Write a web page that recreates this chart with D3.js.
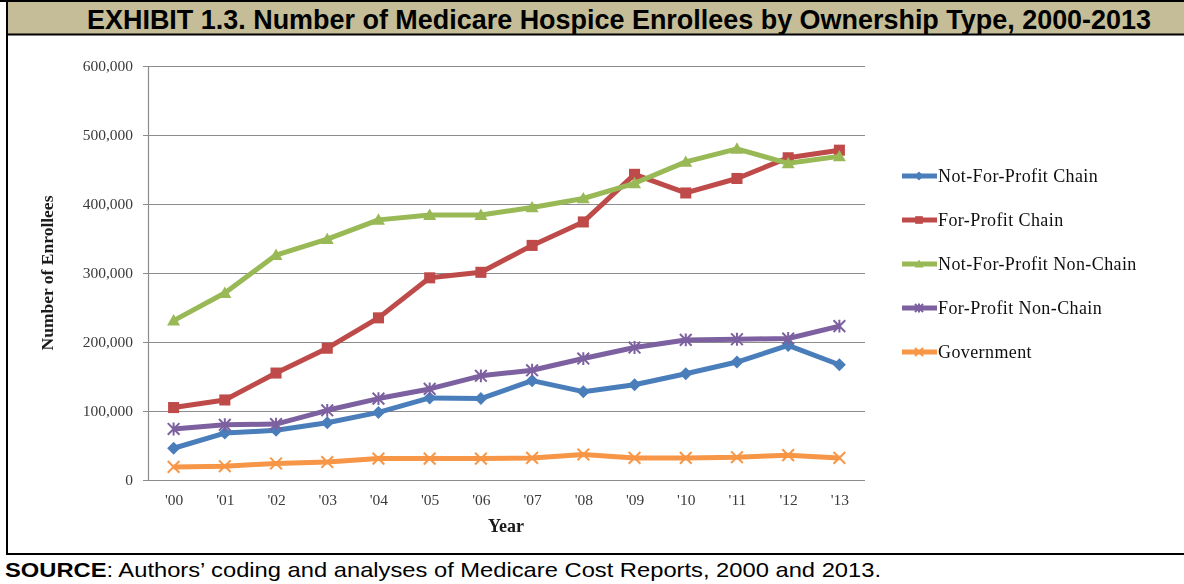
<!DOCTYPE html>
<html>
<head>
<meta charset="utf-8">
<script src="https://cdn.jsdelivr.net/npm/d3@7"></script>
<style>
  html, body { margin: 0; padding: 0; background: #fff; }
  svg { display: block; }
</style>
</head>
<body>
<svg id="chart" width="1184" height="584"></svg>
<script>
// Years on the x axis
const years = ["'00","'01","'02","'03","'04","'05","'06","'07","'08","'09","'10","'11","'12","'13"];

// Enrollees per ownership type, 2000-2013
const notForProfitChain    = [46000, 68000, 72000, 83000, 98000, 119000, 118000, 144000, 128000, 138000, 154000, 171000, 195000, 167000];
const forProfitChain       = [105000, 116000, 155000, 191000, 235000, 293000, 301000, 340000, 374000, 443000, 416000, 437000, 467000, 478000];
const notForProfitNonChain = [231000, 271000, 326000, 349000, 377000, 384000, 384000, 395000, 408000, 430000, 461000, 480000, 459000, 469000];
const forProfitNonChain    = [74000, 80000, 81000, 101000, 118000, 132000, 151000, 159000, 176000, 192000, 203000, 204000, 205000, 223000];
const government           = [19000, 20000, 24000, 26000, 31000, 31000, 31000, 32000, 37000, 32000, 32000, 33000, 36000, 32000];

const seriesNames = ["Not-For-Profit Chain", "For-Profit Chain", "Not-For-Profit Non-Chain", "For-Profit Non-Chain", "Government"];
const yTicks = [0, 100000, 200000, 300000, 400000, 500000, 600000];

const series = [
  { name: seriesNames[0], values: notForProfitChain,    color: "#4a7ebb", marker: "diamond" },
  { name: seriesNames[1], values: forProfitChain,       color: "#be4b48", marker: "square" },
  { name: seriesNames[2], values: notForProfitNonChain, color: "#98b954", marker: "triangle" },
  { name: seriesNames[3], values: forProfitNonChain,    color: "#7d60a0", marker: "star" },
  { name: seriesNames[4], values: government,           color: "#f79646", marker: "x" }
];

const svg = d3.select("#chart");
const W = 1184, H = 584;
const serif = "Liberation Serif, Times New Roman, serif";
const sans = "Liberation Sans, Arial, sans-serif";

// soft edge for the plotted lines and axis text
const defs = svg.append("defs");
defs.append("filter").attr("id", "soft").attr("x", "-5%").attr("y", "-5%").attr("width", "110%").attr("height", "110%")
  .append("feGaussianBlur").attr("stdDeviation", 0.7);
defs.append("filter").attr("id", "softText").attr("x", "-5%").attr("y", "-5%").attr("width", "110%").attr("height", "110%")
  .append("feGaussianBlur").attr("stdDeviation", 0.35);

// ---- frame: title bar, chart box, source row ----
svg.append("rect").attr("x", 7).attr("y", 1).attr("width", W - 7).attr("height", 33).attr("fill", "#c4bd97");
svg.append("line").attr("x1", 0).attr("x2", W).attr("y1", 1).attr("y2", 1).attr("stroke", "#000").attr("stroke-width", 2);
svg.append("line").attr("x1", 7).attr("x2", W).attr("y1", 34.5).attr("y2", 34.5).attr("stroke", "#000").attr("stroke-width", 2);
svg.append("line").attr("x1", 7).attr("x2", 7).attr("y1", 0).attr("y2", 555).attr("stroke", "#000").attr("stroke-width", 2);
svg.append("line").attr("x1", 7).attr("x2", W).attr("y1", 554).attr("y2", 554).attr("stroke", "#000").attr("stroke-width", 2);

svg.append("text")
  .attr("x", 87).attr("y", 28.5)
  .attr("font-family", sans)
  .attr("font-weight", "bold").attr("font-size", 27)
  .attr("textLength", 1064).attr("lengthAdjust", "spacingAndGlyphs")
  .attr("fill", "#000")
  .text("EXHIBIT 1.3. Number of Medicare Hospice Enrollees by Ownership Type, 2000-2013");

const src = svg.append("text")
  .attr("x", 5).attr("y", 577)
  .attr("font-family", sans)
  .attr("font-size", 21).attr("fill", "#000")
  .attr("textLength", 876).attr("lengthAdjust", "spacingAndGlyphs");
src.append("tspan").attr("font-weight", "bold").text("SOURCE");
src.append("tspan").text(":  Authors\u2019 coding and analyses of Medicare Cost Reports, 2000 and 2013.");

// ---- scales ----
const plot = { left: 148, right: 865, top: 66, bottom: 480 };
const x = d3.scalePoint().domain(years).range([plot.left, plot.right]).padding(0.5);
const y = d3.scaleLinear().domain([0, 600000]).range([plot.bottom, plot.top]);

// gridlines
svg.append("g").selectAll("line").data(yTicks.filter(d => d > 0)).join("line")
  .attr("x1", plot.left).attr("x2", plot.right)
  .attr("y1", d => Math.round(y(d)) + 0.5).attr("y2", d => Math.round(y(d)) + 0.5)
  .attr("stroke", "#8c8c8c").attr("stroke-width", 1.2);

// y axis
const yAxis = svg.append("g").attr("transform", `translate(${plot.left},0)`)
  .call(d3.axisLeft(y).tickValues(yTicks).tickSize(5).tickPadding(10).tickFormat(d3.format(",")));
yAxis.select(".domain").attr("stroke", "#8c8c8c").attr("stroke-width", 1.2);
yAxis.selectAll(".tick line").attr("stroke", "#8c8c8c");
yAxis.selectAll(".tick text").attr("font-family", serif)
  .attr("font-size", 15.5).attr("fill", "#3a3a3a").attr("filter", "url(#softText)");

// x axis
const xAxis = svg.append("g").attr("transform", `translate(0,${plot.bottom})`)
  .call(d3.axisBottom(x).tickSize(0).tickPadding(14));
xAxis.select(".domain").attr("d", `M${plot.left},0.5H${plot.right}`).attr("stroke", "#8c8c8c").attr("stroke-width", 1.2);
xAxis.selectAll(".tick text").attr("font-family", serif)
  .attr("font-size", 15.5).attr("fill", "#3a3a3a").attr("filter", "url(#softText)");

// axis titles
svg.append("text")
  .attr("transform", `translate(53,${(plot.top + plot.bottom) / 2}) rotate(-90)`)
  .attr("text-anchor", "middle")
  .attr("font-family", serif)
  .attr("font-weight", "bold").attr("font-size", 17.5).attr("fill", "#1a1a1a")
  .attr("filter", "url(#softText)")
  .text("Number of Enrollees");
svg.append("text")
  .attr("x", 506).attr("y", 532)
  .attr("text-anchor", "middle")
  .attr("font-family", serif)
  .attr("font-weight", "bold").attr("font-size", 18).attr("fill", "#1a1a1a")
  .attr("filter", "url(#softText)")
  .text("Year");

// ---- markers ----
function drawMarker(g, type, color, cx, cy, s) {
  if (type === "diamond") {
    g.append("path").attr("d", `M${cx},${cy - s}L${cx + s},${cy}L${cx},${cy + s}L${cx - s},${cy}Z`).attr("fill", color);
  } else if (type === "square") {
    g.append("rect").attr("x", cx - s * 0.85).attr("y", cy - s * 0.85).attr("width", s * 1.7).attr("height", s * 1.7).attr("fill", color);
  } else if (type === "triangle") {
    g.append("path").attr("d", `M${cx},${cy - s}L${cx + s},${cy + s * 0.75}L${cx - s},${cy + s * 0.75}Z`).attr("fill", color);
  } else if (type === "star") {
    const r = s * 0.9;
    g.append("path").attr("d", `M${cx - r},${cy - r}L${cx + r},${cy + r}M${cx - r},${cy + r}L${cx + r},${cy - r}M${cx},${cy - r * 1.1}L${cx},${cy + r * 1.1}`)
      .attr("stroke", color).attr("stroke-width", 2).attr("fill", "none");
  } else if (type === "x") {
    const r = s * 0.9;
    g.append("path").attr("d", `M${cx - r},${cy - r}L${cx + r},${cy + r}M${cx - r},${cy + r}L${cx + r},${cy - r}`)
      .attr("stroke", color).attr("stroke-width", 2).attr("fill", "none");
  }
}

const line = d3.line().x((d, i) => x(years[i])).y(d => y(d));
const marks = svg.append("g").attr("filter", "url(#soft)");

series.forEach(s => {
  const g = marks.append("g");
  g.append("path").datum(s.values).attr("d", line)
    .attr("fill", "none").attr("stroke", s.color).attr("stroke-width", 5)
    .attr("stroke-linejoin", "round");
  s.values.forEach((v, i) => drawMarker(g, s.marker, s.color, x(years[i]), y(v), 6.5));
});

// ---- legend ----
const legend = svg.append("g");
series.forEach((s, i) => {
  const cy = 176 + i * 44;
  const g = legend.append("g").attr("filter", "url(#soft)");
  g.append("line").attr("x1", 902).attr("x2", 937).attr("y1", cy).attr("y2", cy)
    .attr("stroke", s.color).attr("stroke-width", 5);
  drawMarker(g, s.marker, s.color, 919, cy, 4.5);
  legend.append("text").attr("x", 938).attr("y", cy + 6)
    .attr("font-family", serif)
    .attr("font-size", 18).attr("letter-spacing", 0.4).attr("fill", "#111")
    .attr("filter", "url(#softText)")
    .text(s.name);
});
</script>
</body>
</html>
